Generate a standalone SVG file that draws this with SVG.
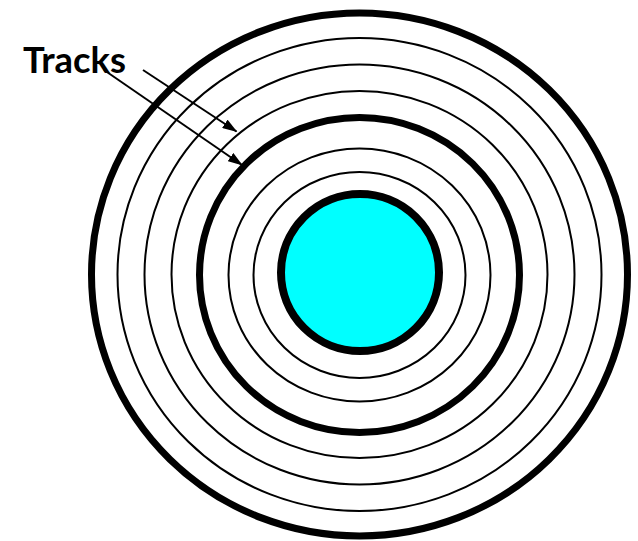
<svg xmlns="http://www.w3.org/2000/svg" width="638" height="541" viewBox="0 0 638 541">
<style>
.thick{fill:none;stroke:#000;stroke-width:7}
.thin{fill:none;stroke:#000;stroke-width:2}
.arrow{stroke:#000;stroke-width:2;fill:none}
.lbl{font-family:Lato,"Liberation Sans",Arial,sans-serif;font-weight:bold;font-size:37px;fill:#000}
</style>
<defs>
<marker id="ah" viewBox="0 0 15 10" refX="14" refY="5" markerWidth="15" markerHeight="10" markerUnits="userSpaceOnUse" orient="auto">
<path d="M0,0 L15,5 L0,10 Z" fill="#000"/>
</marker>
</defs>
<rect width="638" height="541" fill="#fff"/>
<g id="disk">
<ellipse class="thick" cx="359.5" cy="274.5" rx="268" ry="261.5"/>
<ellipse class="thin" cx="359.5" cy="274.5" rx="242" ry="236.5"/>
<ellipse class="thin" cx="359.5" cy="274.5" rx="215" ry="210"/>
<ellipse class="thin" cx="359.5" cy="274.5" rx="188" ry="183.5"/>
<ellipse class="thick" cx="359.5" cy="275" rx="160" ry="157.5"/>
<ellipse class="thin" cx="359.5" cy="275" rx="131" ry="126.5"/>
<ellipse class="thin" cx="359.5" cy="275" rx="106" ry="103"/>
</g>
<g id="hub">
<ellipse cx="360" cy="272.5" rx="79" ry="78.5" fill="#00FFFF" stroke="#000" stroke-width="8"/>
</g>
<g id="label">
<text class="lbl" x="23" y="73" textLength="103" lengthAdjust="spacingAndGlyphs">Tracks</text>
</g>
<g id="connectors">
<line class="arrow" x1="143" y1="70" x2="236.5" y2="131.5" marker-end="url(#ah)"/>
<line class="arrow" x1="104" y1="70" x2="242" y2="165" marker-end="url(#ah)"/>
</g>
</svg>
